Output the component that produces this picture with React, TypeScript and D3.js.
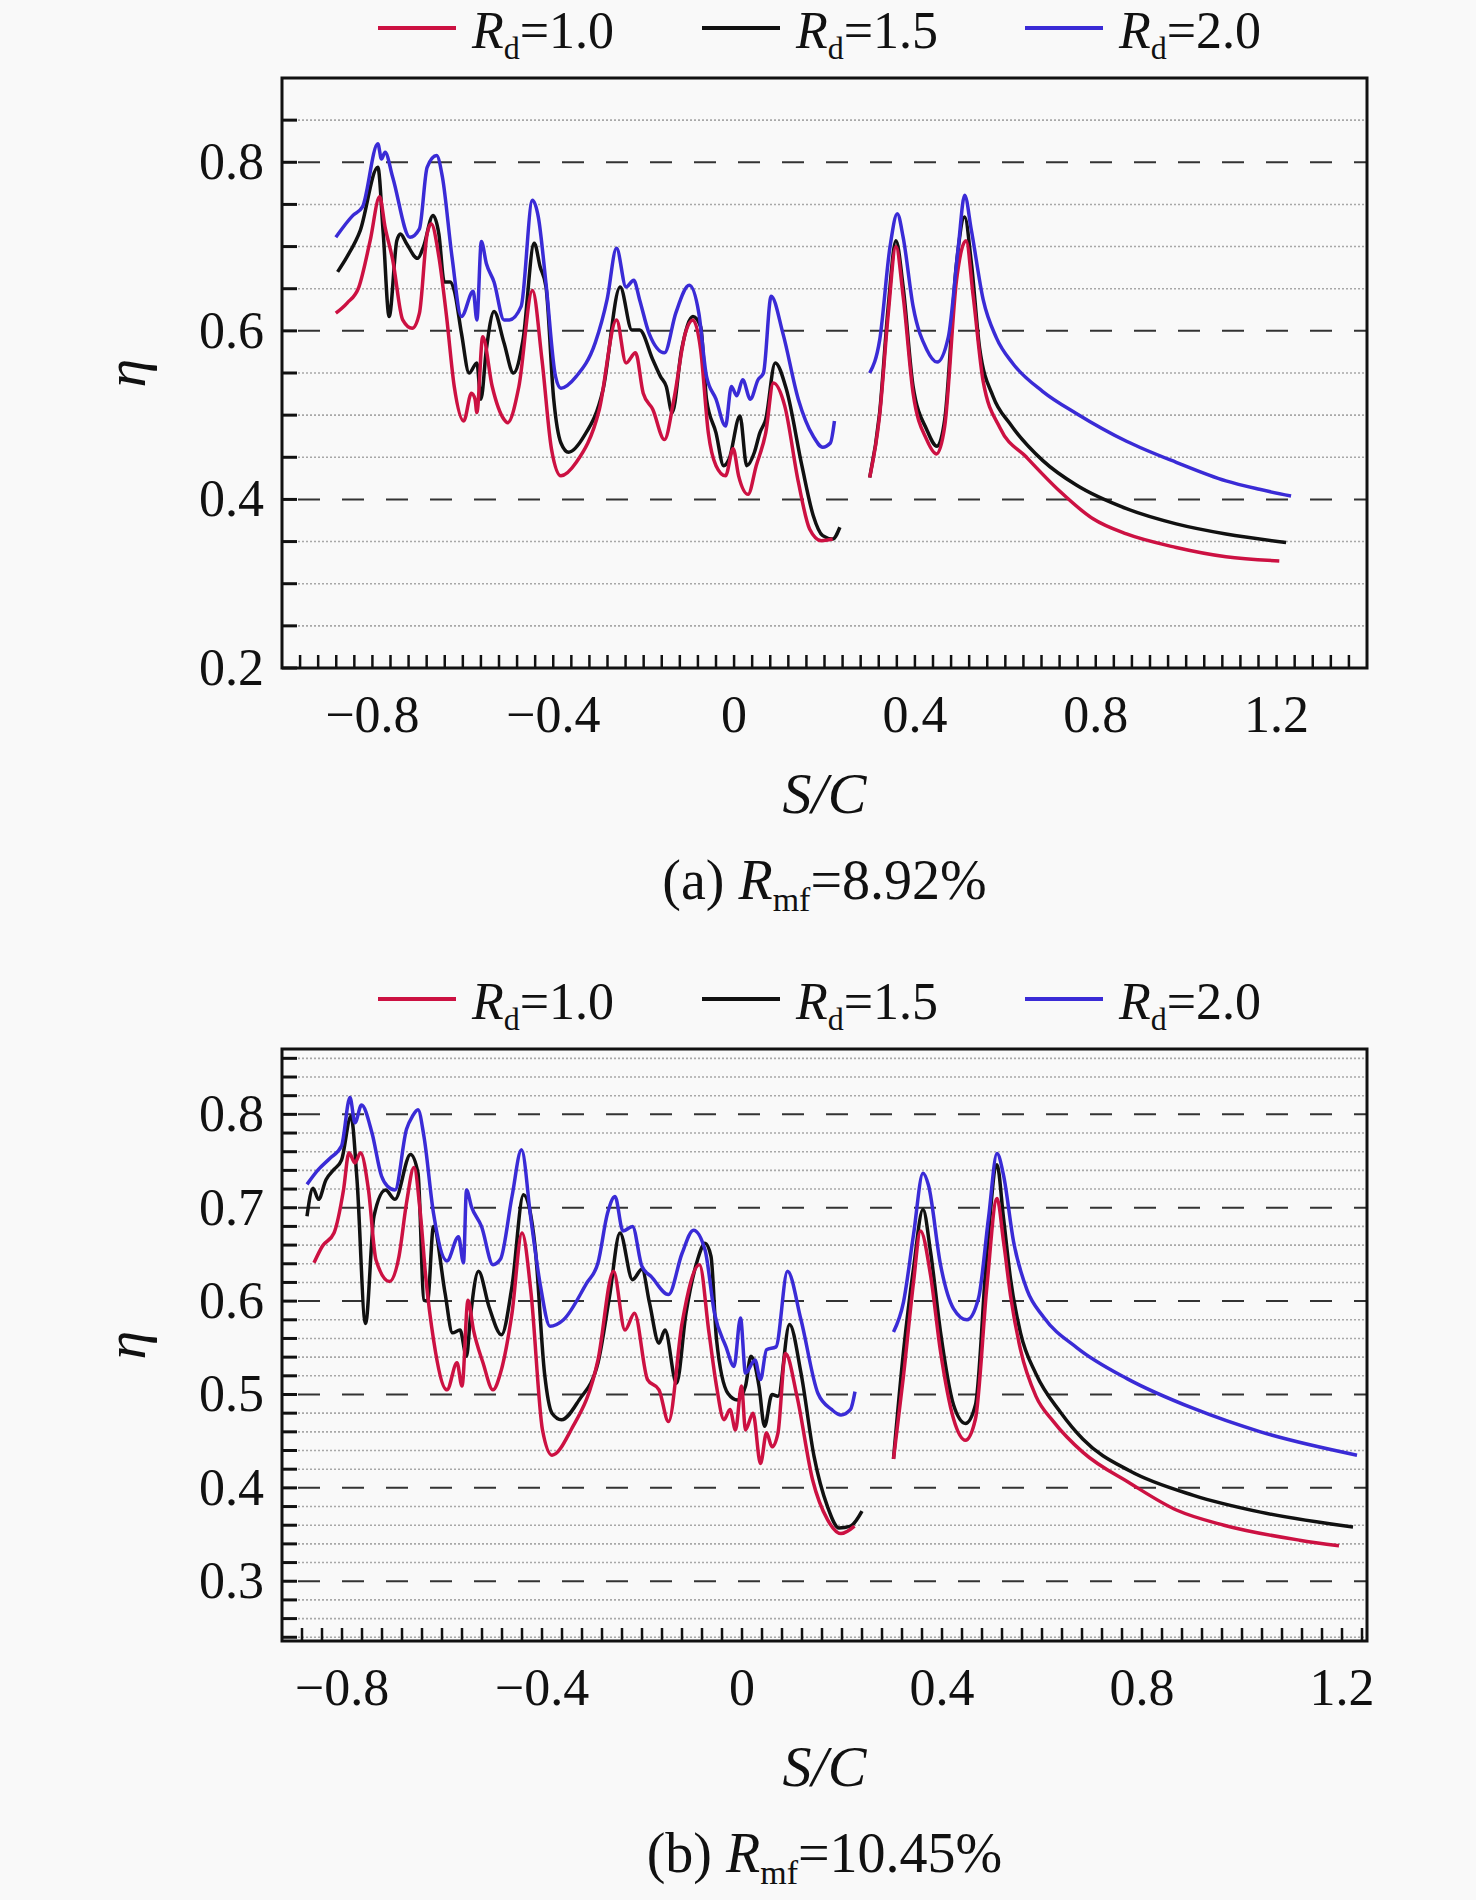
import * as d3 from "d3";

type Pt = [number, number];

// legend / series
const rdValues = ["1.0", "1.5", "2.0"];
const rdColors = ["#cc1142", "#111111", "#3a2bd6"];

// shared x tick labels
const xTickLabels = [-0.8, -0.4, 0, 0.4, 0.8, 1.2];

// ---------- panel (a) R_mf = 8.92% ----------
const aYTickLabels = [0.2, 0.4, 0.6, 0.8];

const aRd10Left: Pt[] = [
  [-0.881, 0.621], [-0.856, 0.633], [-0.83, 0.652], [-0.805, 0.707], [-0.784, 0.759],
  [-0.772, 0.723], [-0.755, 0.684], [-0.733, 0.613], [-0.712, 0.603], [-0.696, 0.621],
  [-0.679, 0.715], [-0.67, 0.727], [-0.653, 0.688], [-0.636, 0.617], [-0.619, 0.534],
  [-0.598, 0.493], [-0.581, 0.526], [-0.573, 0.519], [-0.569, 0.503], [-0.556, 0.593],
  [-0.535, 0.534], [-0.509, 0.495], [-0.501, 0.491], [-0.476, 0.534], [-0.446, 0.648],
  [-0.425, 0.566], [-0.404, 0.46], [-0.383, 0.428], [-0.349, 0.444], [-0.298, 0.507],
  [-0.26, 0.613], [-0.239, 0.562], [-0.218, 0.574], [-0.201, 0.526], [-0.18, 0.507],
  [-0.154, 0.471], [-0.133, 0.519], [-0.108, 0.597], [-0.091, 0.613], [-0.074, 0.578],
  [-0.057, 0.479], [-0.04, 0.44], [-0.019, 0.428], [-0.002, 0.46], [0.01, 0.428],
  [0.031, 0.406], [0.049, 0.44], [0.07, 0.479], [0.087, 0.538], [0.112, 0.511],
  [0.142, 0.421], [0.167, 0.365], [0.193, 0.351], [0.218, 0.353],
];
const aRd10Right: Pt[] = [
  [0.3, 0.426], [0.322, 0.5], [0.341, 0.62], [0.358, 0.7], [0.374, 0.641], [0.396, 0.526],
  [0.426, 0.471], [0.448, 0.454], [0.466, 0.487], [0.492, 0.66], [0.513, 0.707],
  [0.529, 0.641], [0.551, 0.54], [0.588, 0.485], [0.647, 0.45], [0.72, 0.41],
  [0.794, 0.377], [0.868, 0.359], [0.978, 0.343], [1.088, 0.332], [1.206, 0.327],
];
const aRd15Left: Pt[] = [
  [-0.877, 0.67], [-0.856, 0.688], [-0.827, 0.719], [-0.788, 0.794], [-0.776, 0.715],
  [-0.763, 0.617], [-0.746, 0.707], [-0.738, 0.715], [-0.725, 0.704], [-0.7, 0.686],
  [-0.687, 0.7], [-0.666, 0.737], [-0.653, 0.715], [-0.641, 0.658], [-0.628, 0.658],
  [-0.619, 0.648], [-0.603, 0.597], [-0.586, 0.55], [-0.569, 0.562], [-0.56, 0.519],
  [-0.548, 0.578], [-0.531, 0.623], [-0.509, 0.586], [-0.488, 0.55], [-0.467, 0.589],
  [-0.442, 0.704], [-0.429, 0.676], [-0.416, 0.652], [-0.399, 0.519], [-0.383, 0.467],
  [-0.366, 0.456], [-0.332, 0.475], [-0.29, 0.53], [-0.252, 0.652], [-0.226, 0.601],
  [-0.209, 0.601], [-0.18, 0.566], [-0.163, 0.546], [-0.15, 0.534], [-0.137, 0.503],
  [-0.116, 0.578], [-0.091, 0.617], [-0.074, 0.605], [-0.061, 0.519], [-0.04, 0.479],
  [-0.023, 0.44], [-0.011, 0.448], [0.013, 0.499], [0.028, 0.44], [0.045, 0.456],
  [0.057, 0.479], [0.07, 0.495], [0.091, 0.562], [0.116, 0.53], [0.15, 0.44],
  [0.175, 0.381], [0.196, 0.357], [0.218, 0.353], [0.234, 0.367],
];
const aRd15Right: Pt[] = [
  [0.3, 0.426], [0.322, 0.503], [0.341, 0.629], [0.358, 0.707], [0.374, 0.652],
  [0.396, 0.534], [0.426, 0.483], [0.449, 0.463], [0.466, 0.495], [0.492, 0.68],
  [0.51, 0.735], [0.525, 0.68], [0.543, 0.58], [0.573, 0.522], [0.61, 0.49],
  [0.683, 0.446], [0.757, 0.417], [0.868, 0.389], [0.978, 0.371], [1.088, 0.359],
  [1.221, 0.349],
];
const aRd20Left: Pt[] = [
  [-0.881, 0.711], [-0.843, 0.737], [-0.822, 0.747], [-0.788, 0.822], [-0.78, 0.804],
  [-0.772, 0.812], [-0.755, 0.782], [-0.717, 0.711], [-0.696, 0.721], [-0.679, 0.794],
  [-0.658, 0.808], [-0.645, 0.782], [-0.624, 0.688], [-0.603, 0.617], [-0.577, 0.647],
  [-0.569, 0.613], [-0.559, 0.706], [-0.548, 0.68], [-0.531, 0.658], [-0.509, 0.613],
  [-0.497, 0.613], [-0.471, 0.629], [-0.446, 0.755], [-0.433, 0.735], [-0.416, 0.656],
  [-0.395, 0.546], [-0.383, 0.532], [-0.349, 0.546], [-0.307, 0.586], [-0.281, 0.637],
  [-0.26, 0.698], [-0.239, 0.652], [-0.222, 0.66], [-0.209, 0.637], [-0.188, 0.597],
  [-0.154, 0.574], [-0.129, 0.621], [-0.099, 0.654], [-0.078, 0.621], [-0.061, 0.546],
  [-0.04, 0.519], [-0.019, 0.487], [-0.006, 0.534], [0.006, 0.523], [0.019, 0.542],
  [0.036, 0.519], [0.053, 0.542], [0.065, 0.55], [0.082, 0.641], [0.108, 0.597],
  [0.142, 0.519], [0.175, 0.475], [0.196, 0.462], [0.213, 0.467], [0.222, 0.493],
];
const aRd20Right: Pt[] = [
  [0.3, 0.55], [0.322, 0.589], [0.345, 0.7], [0.361, 0.739], [0.374, 0.711], [0.396, 0.629],
  [0.426, 0.578], [0.449, 0.563], [0.474, 0.593], [0.496, 0.7], [0.51, 0.761],
  [0.525, 0.719], [0.551, 0.637], [0.58, 0.592], [0.617, 0.561], [0.683, 0.528],
  [0.757, 0.502], [0.868, 0.469], [0.978, 0.444], [1.088, 0.422], [1.162, 0.412],
  [1.232, 0.404],
];

// ---------- panel (b) R_mf = 10.45% ----------
const bYTickLabels = [0.3, 0.4, 0.5, 0.6, 0.7, 0.8];

const bRd10Left: Pt[] = [
  [-0.856, 0.641], [-0.839, 0.659], [-0.816, 0.673], [-0.797, 0.719], [-0.786, 0.759],
  [-0.774, 0.748], [-0.763, 0.759], [-0.747, 0.719], [-0.732, 0.644], [-0.705, 0.621],
  [-0.686, 0.648], [-0.671, 0.705], [-0.656, 0.743], [-0.644, 0.698], [-0.632, 0.623],
  [-0.617, 0.559], [-0.59, 0.505], [-0.57, 0.534], [-0.56, 0.509], [-0.548, 0.601],
  [-0.537, 0.569], [-0.518, 0.534], [-0.498, 0.505], [-0.483, 0.523], [-0.46, 0.587],
  [-0.44, 0.673], [-0.422, 0.609], [-0.399, 0.462], [-0.38, 0.435], [-0.342, 0.462],
  [-0.288, 0.537], [-0.257, 0.632], [-0.234, 0.569], [-0.215, 0.587], [-0.189, 0.516],
  [-0.166, 0.505], [-0.147, 0.471], [-0.12, 0.576], [-0.085, 0.639], [-0.066, 0.566],
  [-0.051, 0.509], [-0.036, 0.473], [-0.024, 0.484], [-0.013, 0.462], [-0.001, 0.509],
  [0.007, 0.462], [0.022, 0.48], [0.037, 0.426], [0.049, 0.459], [0.06, 0.444],
  [0.072, 0.459], [0.087, 0.544], [0.11, 0.498], [0.141, 0.409], [0.171, 0.366],
  [0.198, 0.351], [0.225, 0.359],
];
const bRd10Right: Pt[] = [
  [0.303, 0.431], [0.323, 0.52], [0.343, 0.62], [0.357, 0.675], [0.377, 0.628],
  [0.397, 0.546], [0.423, 0.474], [0.447, 0.451], [0.467, 0.474], [0.49, 0.617],
  [0.51, 0.71], [0.523, 0.664], [0.537, 0.606], [0.557, 0.548], [0.588, 0.498],
  [0.623, 0.471], [0.682, 0.438], [0.776, 0.405], [0.87, 0.376], [0.964, 0.36],
  [1.115, 0.344], [1.194, 0.338],
];
const bRd15Left: Pt[] = [
  [-0.87, 0.691], [-0.858, 0.721], [-0.847, 0.709], [-0.832, 0.73], [-0.816, 0.741],
  [-0.801, 0.751], [-0.782, 0.798], [-0.77, 0.73], [-0.753, 0.576], [-0.736, 0.691],
  [-0.713, 0.719], [-0.694, 0.709], [-0.663, 0.757], [-0.648, 0.737], [-0.636, 0.601],
  [-0.629, 0.6], [-0.617, 0.68], [-0.594, 0.609], [-0.579, 0.566], [-0.564, 0.569],
  [-0.551, 0.541], [-0.543, 0.584], [-0.527, 0.632], [-0.506, 0.594], [-0.481, 0.564],
  [-0.46, 0.616], [-0.437, 0.714], [-0.414, 0.659], [-0.395, 0.523], [-0.38, 0.48],
  [-0.361, 0.473], [-0.326, 0.494], [-0.288, 0.534], [-0.265, 0.605], [-0.244, 0.673],
  [-0.219, 0.623], [-0.2, 0.634], [-0.185, 0.598], [-0.166, 0.555], [-0.154, 0.569],
  [-0.131, 0.512], [-0.112, 0.587], [-0.089, 0.644], [-0.074, 0.662], [-0.062, 0.648],
  [-0.051, 0.559], [-0.028, 0.501], [-0.009, 0.494], [0.007, 0.509], [0.018, 0.541],
  [0.034, 0.509], [0.045, 0.466], [0.06, 0.5], [0.072, 0.498], [0.095, 0.575],
  [0.118, 0.523], [0.144, 0.434], [0.171, 0.38], [0.194, 0.357], [0.217, 0.359],
  [0.24, 0.375],
];
const bRd15Right: Pt[] = [
  [0.303, 0.431], [0.323, 0.546], [0.343, 0.635], [0.362, 0.698], [0.377, 0.653],
  [0.397, 0.567], [0.423, 0.489], [0.447, 0.469], [0.467, 0.489], [0.49, 0.653],
  [0.51, 0.746], [0.523, 0.689], [0.537, 0.624], [0.557, 0.566], [0.588, 0.522],
  [0.637, 0.481], [0.682, 0.452], [0.776, 0.418], [0.903, 0.392], [1.037, 0.374],
  [1.222, 0.358],
];
const bRd20Left: Pt[] = [
  [-0.87, 0.725], [-0.847, 0.741], [-0.824, 0.753], [-0.801, 0.766], [-0.784, 0.818],
  [-0.774, 0.791], [-0.761, 0.81], [-0.74, 0.78], [-0.721, 0.734], [-0.709, 0.723],
  [-0.694, 0.719], [-0.671, 0.784], [-0.659, 0.798], [-0.648, 0.805], [-0.636, 0.776],
  [-0.617, 0.694], [-0.59, 0.643], [-0.567, 0.669], [-0.557, 0.641], [-0.551, 0.719],
  [-0.541, 0.701], [-0.521, 0.68], [-0.498, 0.639], [-0.483, 0.645], [-0.46, 0.712],
  [-0.441, 0.762], [-0.422, 0.687], [-0.403, 0.616], [-0.384, 0.573], [-0.357, 0.58],
  [-0.311, 0.619], [-0.288, 0.641], [-0.269, 0.694], [-0.254, 0.712], [-0.238, 0.675],
  [-0.219, 0.68], [-0.2, 0.637], [-0.181, 0.626], [-0.147, 0.607], [-0.12, 0.651],
  [-0.097, 0.676], [-0.074, 0.655], [-0.055, 0.587], [-0.032, 0.551], [-0.016, 0.53],
  [-0.003, 0.582], [0.007, 0.523], [0.026, 0.537], [0.037, 0.516], [0.049, 0.548],
  [0.068, 0.551], [0.091, 0.632], [0.118, 0.58], [0.152, 0.501], [0.179, 0.484],
  [0.198, 0.478], [0.217, 0.484], [0.226, 0.503],
];
const bRd20Right: Pt[] = [
  [0.303, 0.567], [0.323, 0.599], [0.343, 0.671], [0.362, 0.737], [0.373, 0.724],
  [0.397, 0.639], [0.423, 0.592], [0.45, 0.58], [0.473, 0.603], [0.493, 0.689],
  [0.51, 0.758], [0.523, 0.735], [0.543, 0.664], [0.57, 0.612], [0.603, 0.583],
  [0.67, 0.55], [0.77, 0.517], [0.903, 0.485], [1.037, 0.46], [1.23, 0.435],
];

const FONT = "'Liberation Serif', 'Times New Roman', Times, serif";
const W = 1476;
const H = 1900;
const LEFT = 282;
const RIGHT = 1367;

type PanelProps = {
  top: number;
  bottom: number;
  xDomain: [number, number];
  yDomain: [number, number];
  xMinor: number[];
  yMinor: number[];
  yMajor: number[];
  yLabels: number[];
  series: Pt[][][]; // [rd][segment][points]
  tag: string;
  rmf: string;
};

function Panel({ top, bottom, xDomain, yDomain, xMinor, yMinor, yMajor, yLabels, series, tag, rmf }: PanelProps) {
  const x = d3.scaleLinear().domain(xDomain).range([LEFT, RIGHT]);
  const y = d3.scaleLinear().domain(yDomain).range([bottom, top]);
  const line = d3
    .line<Pt>()
    .x((d) => x(d[0]))
    .y((d) => y(d[1]))
    .curve(d3.curveMonotoneX);
  const fmt = (v: number) => (v === 0 ? "0" : d3.format(".1f")(v));
  const isMajor = (v: number) => yMajor.some((m) => Math.abs(m - v) < 1e-6);
  const legendX = [378, 702, 1025];
  const cx = (LEFT + RIGHT) / 2;

  return (
    <g>
      {/* legend */}
      {rdValues.map((rd, i) => (
        <g key={rd}>
          <line x1={legendX[i]} x2={legendX[i] + 78} y1={top - 50} y2={top - 50} stroke={rdColors[i]} strokeWidth={4} />
          <text x={legendX[i] + 94} y={top - 30} fontFamily={FONT} fontSize={52} fill="#111">
            <tspan fontStyle="italic">R</tspan>
            <tspan fontSize={32} dy={11}>d</tspan>
            <tspan dy={-11}>={rd}</tspan>
          </text>
        </g>
      ))}

      {/* grid */}
      {yMinor
        .filter((v) => y(v) > top + 1 && y(v) < bottom - 1)
        .map((v) => (
          <line
            key={`g${v}`}
            x1={LEFT + 16}
            x2={RIGHT}
            y1={y(v)}
            y2={y(v)}
            stroke={isMajor(v) ? "#333" : "#a8a8a8"}
            strokeWidth={isMajor(v) ? 2 : 1.6}
            strokeDasharray={isMajor(v) ? "22 22" : "2 2"}
          />
        ))}

      {/* series: black, red, blue */}
      {[1, 0, 2].map((i) =>
        series[i].map((seg, j) => (
          <path key={`s${i}-${j}`} d={line(seg) || undefined} fill="none" stroke={rdColors[i]} strokeWidth={3.5} strokeLinejoin="round" />
        ))
      )}

      {/* ticks */}
      {yMinor.map((v) => (
        <line key={`yt${v}`} x1={LEFT} x2={LEFT + 15} y1={y(v)} y2={y(v)} stroke="#111" strokeWidth={3} />
      ))}
      {xMinor.map((v) => (
        <line key={`xt${v}`} x1={x(v)} x2={x(v)} y1={bottom} y2={bottom - 13} stroke="#111" strokeWidth={2.5} />
      ))}

      {/* frame */}
      <rect x={LEFT} y={top} width={RIGHT - LEFT} height={bottom - top} fill="none" stroke="#111" strokeWidth={3} />

      {/* tick labels */}
      {yLabels.map((v) => (
        <text key={`yl${v}`} x={LEFT - 18} y={y(v) + 17} textAnchor="end" fontFamily={FONT} fontSize={52} fill="#111">
          {fmt(v)}
        </text>
      ))}
      {xTickLabels.map((v) => (
        <text key={`xl${v}`} x={x(v)} y={bottom + 64} textAnchor="middle" fontFamily={FONT} fontSize={52} fill="#111">
          {fmt(v)}
        </text>
      ))}

      {/* axis titles */}
      <text
        transform={`translate(145,${(top + bottom) / 2}) rotate(-90)`}
        textAnchor="middle"
        fontFamily={FONT}
        fontSize={58}
        fontStyle="italic"
        fill="#111"
      >
        η
      </text>
      <text x={cx} y={bottom + 145} textAnchor="middle" fontFamily={FONT} fontSize={58} fontStyle="italic" fill="#111">
        S/C
      </text>
      <text x={cx} y={bottom + 231} textAnchor="middle" fontFamily={FONT} fontSize={56} fill="#111">
        <tspan>{tag} </tspan>
        <tspan fontStyle="italic">R</tspan>
        <tspan fontSize={34} dy={12}>mf</tspan>
        <tspan dy={-12}>={rmf}</tspan>
      </text>
    </g>
  );
}

export default function App() {
  const aSeries = [
    [aRd10Left, aRd10Right],
    [aRd15Left, aRd15Right],
    [aRd20Left, aRd20Right],
  ];
  const bSeries = [
    [bRd10Left, bRd10Right],
    [bRd15Left, bRd15Right],
    [bRd20Left, bRd20Right],
  ];
  return (
    <div style={{ position: "absolute", left: 0, top: 0 }}>
      <svg width={W} height={H} style={{ display: "block" }}>
        <rect width={W} height={H} fill="#f9f9f9" />
        <Panel
          top={78}
          bottom={668}
          xDomain={[-1.0, 1.4]}
          yDomain={[0.2, 0.9]}
          xMinor={d3.range(-24, 35).map((i) => i * 0.04)}
          yMinor={d3.range(4, 18).map((i) => +(i * 0.05).toFixed(2))}
          yMajor={aYTickLabels}
          yLabels={aYTickLabels}
          series={aSeries}
          tag="(a)"
          rmf="8.92%"
        />
        <Panel
          top={1049}
          bottom={1641}
          xDomain={[-0.92, 1.25]}
          yDomain={[0.236, 0.87]}
          xMinor={d3.range(-22, 32).map((i) => i * 0.04)}
          yMinor={d3.range(12, 44).map((i) => +(i * 0.02).toFixed(2))}
          yMajor={bYTickLabels}
          yLabels={bYTickLabels}
          series={bSeries}
          tag="(b)"
          rmf="10.45%"
        />
      </svg>
    </div>
  );
}
